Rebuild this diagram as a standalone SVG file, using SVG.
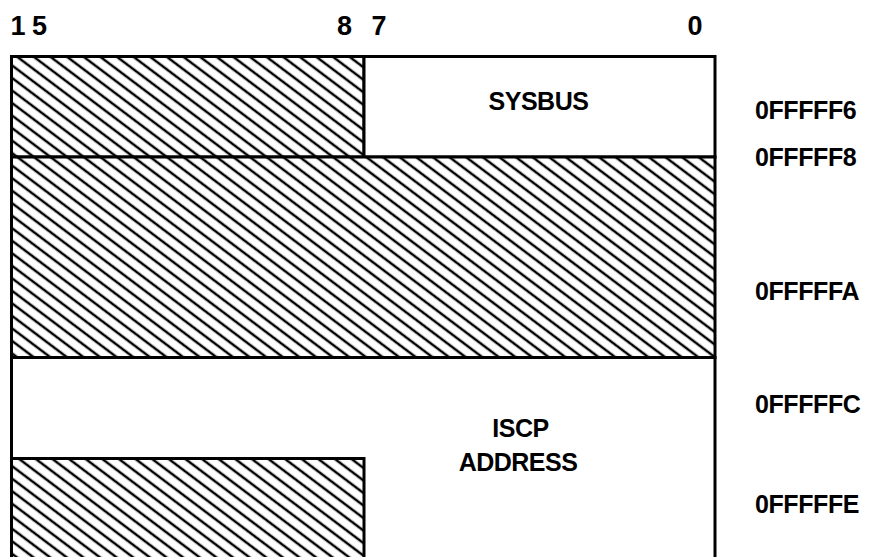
<svg xmlns="http://www.w3.org/2000/svg" width="872" height="557" viewBox="0 0 872 557">
  <style>
    .lbl { font-family: "Liberation Sans", Arial, sans-serif; font-weight: bold; fill: #000; }
    .bit { font-size: 27px; text-anchor: middle; }
    .fld { font-size: 25px; text-anchor: middle; letter-spacing: -0.5px; }
    .addr { font-size: 25px; letter-spacing: -0.4px; }
    .hatch { fill: url(#hatch); stroke: #000; stroke-width: 3; }
    .plain { fill: #fff; stroke: #000; stroke-width: 3; }
  </style>
  <defs>
    <pattern id="hatch" patternUnits="userSpaceOnUse" width="10" height="10" patternTransform="rotate(37)">
      <rect width="10" height="10" fill="#fff"/>
      <line x1="-1" y1="5" x2="11" y2="5" stroke="#000" stroke-width="2.5"/>
    </pattern>
  </defs>
  <rect width="872" height="557" fill="#fff"/>

  <g id="bit-labels">
    <text class="lbl bit" x="18" y="35">1</text>
    <text class="lbl bit" x="39.5" y="35">5</text>
    <text class="lbl bit" x="344.5" y="35">8</text>
    <text class="lbl bit" x="379" y="35">7</text>
    <text class="lbl bit" x="695" y="35">0</text>
  </g>

  <g id="row-sysbus">
    <rect class="hatch" x="11.5" y="56.5" width="352.5" height="100.5"/>
    <rect class="plain" x="364" y="56.5" width="351" height="100.5"/>
    <text class="lbl fld" x="538.5" y="110">SYSBUS</text>
  </g>

  <g id="row-reserved">
    <rect class="hatch" x="11.5" y="157" width="703.5" height="200.5"/>
  </g>

  <g id="row-iscp">
    <rect class="plain" x="11.5" y="357.5" width="703.5" height="210"/>
    <rect class="hatch" x="11.5" y="458.5" width="352.5" height="110"/>
    <text class="lbl fld" x="520.5" y="437">ISCP</text>
    <text class="lbl fld" x="518" y="471">ADDRESS</text>
  </g>

  <g id="addresses">
    <text class="lbl addr" x="755" y="119">0FFFFF6</text>
    <text class="lbl addr" x="755" y="166">0FFFFF8</text>
    <text class="lbl addr" x="755" y="300">0FFFFFA</text>
    <text class="lbl addr" x="755" y="413">0FFFFFC</text>
    <text class="lbl addr" x="755" y="513">0FFFFFE</text>
  </g>

  <g id="connectors"></g>
</svg>
